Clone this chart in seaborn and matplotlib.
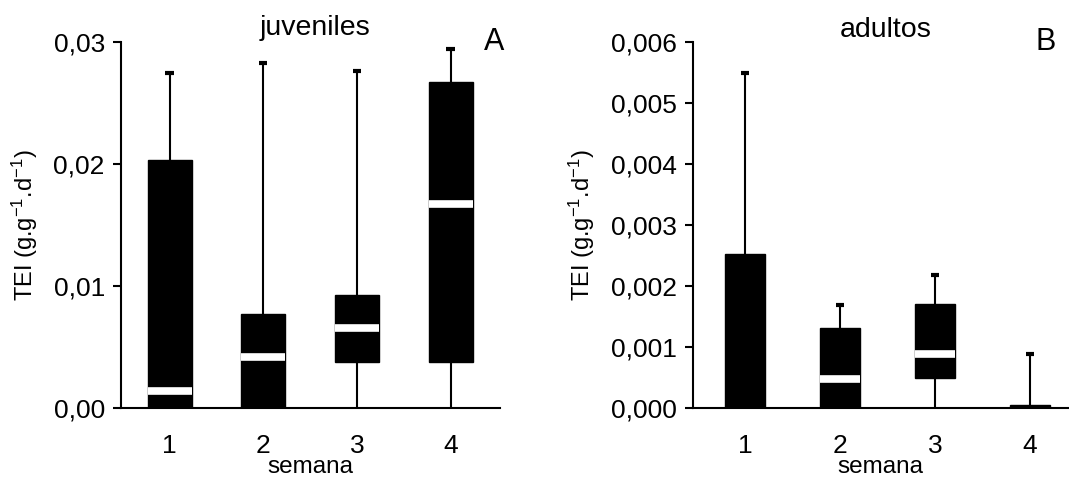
import numpy as np
import pandas as pd
import matplotlib
matplotlib.use("Agg")
import matplotlib.pyplot as plt
from matplotlib.ticker import FuncFormatter
import seaborn as sns

# Weekly TEI summaries: minimum, first quartile, median, third quartile, maximum
weeks = ["1", "2", "3", "4"]
juveniles_stats = {
    "1": [0.0, 0.0, 0.0014, 0.0203, 0.0275],
    "2": [0.0, 0.0, 0.0042, 0.0077, 0.0283],
    "3": [0.0, 0.0038, 0.0066, 0.0093, 0.0276],
    "4": [0.0, 0.0038, 0.0167, 0.0267, 0.0294],
}
adultos_stats = {
    "1": [0.0, 0.0, 0.0, 0.00253, 0.0055],
    "2": [0.0, 0.0, 0.00047, 0.00131, 0.00169],
    "3": [0.0, 0.00049, 0.00089, 0.00171, 0.00219],
    "4": [0.0, 0.0, 0.0, 0.00005, 0.00089],
}
juveniles_yticks = [0.0, 0.01, 0.02, 0.03]
adultos_yticks = [0.0, 0.001, 0.002, 0.003, 0.004, 0.005, 0.006]


def to_long(stats):
    rows = []
    for w in weeks:
        for v in stats[w]:
            rows.append({"semana": w, "TEI": v})
    return pd.DataFrame(rows)


sns.set_theme(style="ticks")
plt.rcParams["font.family"] = ["Liberation Sans", "DejaVu Sans"]
plt.rcParams["mathtext.fontset"] = "custom"
plt.rcParams["mathtext.rm"] = "Liberation Sans"
plt.rcParams["mathtext.it"] = "Liberation Sans:italic"
plt.rcParams["text.color"] = "black"
plt.rcParams["axes.labelcolor"] = "black"

TICK_FS = 19
LABEL_FS = 17.5
YLABEL_FS = 17
TITLE_FS = 20.5
PANEL_FS = 22

fig = plt.figure(figsize=(10.69, 4.79), dpi=100)
axA = fig.add_axes([0.113, 0.148, 0.355, 0.764])
axB = fig.add_axes([0.648, 0.148, 0.352, 0.764])


def draw(ax, stats, width, xlim, yticks, decimals):
    df = to_long(stats)
    sns.boxplot(
        data=df, x="semana", y="TEI", order=weeks, ax=ax,
        whis=(0, 100), width=width, showfliers=False,
        boxprops=dict(facecolor="black", edgecolor="black", linewidth=1),
        medianprops=dict(color="white", linewidth=5.5, solid_capstyle="butt"),
        whiskerprops=dict(color="black", linewidth=1.5),
        capprops=dict(color="black", linewidth=3, solid_capstyle="butt"),
        capwidths=0.09,
    )
    # no marks at the zero baseline: hide zero medians and zero caps
    for line in ax.lines:
        y = np.asarray(line.get_ydata(), dtype=float)
        if line.get_color() == "white" and np.allclose(y, 0.0):
            line.set_visible(False)
        elif len(y) == 2 and np.allclose(y, 0.0) and line.get_linewidth() >= 3:
            line.set_visible(False)
    ax.set_xlim(*xlim)
    ax.set_ylim(yticks[0], yticks[-1])
    ax.set_yticks(yticks)
    ax.yaxis.set_major_formatter(
        FuncFormatter(lambda v, p: f"{v:.{decimals}f}".replace(".", ","))
    )
    for s in ["top", "right"]:
        ax.spines[s].set_visible(False)
    for s in ["left", "bottom"]:
        ax.spines[s].set_linewidth(1.5)
        ax.spines[s].set_color("black")
        ax.spines[s].set_zorder(0.5)
    ax.tick_params(axis="y", length=5.5, width=1.5, labelsize=TICK_FS, pad=6, colors="black")
    ax.tick_params(axis="x", length=0, labelsize=TICK_FS, pad=19, colors="black")
    ax.set_xlabel("semana", fontsize=LABEL_FS, labelpad=-2, color="black")
    ax.set_ylabel(r"TEI (g.g$^{-1}$.d$^{-1}$)", fontsize=YLABEL_FS, labelpad=10, color="black")
    ax.set_facecolor("white")


draw(axA, juveniles_stats, 0.47, (-0.52, 3.53), juveniles_yticks, 2)
draw(axB, adultos_stats, 0.42, (-0.55, 3.41), adultos_yticks, 3)

fig.text(315 / 1069, 1 - 28 / 479, "juveniles", fontsize=TITLE_FS, ha="center", va="center", color="black")
fig.text(494 / 1069, 1 - 42 / 479, "A", fontsize=PANEL_FS, ha="center", va="center", color="black")
fig.text(886 / 1069, 1 - 30 / 479, "adultos", fontsize=TITLE_FS, ha="center", va="center", color="black")
fig.text(1046 / 1069, 1 - 42 / 479, "B", fontsize=PANEL_FS, ha="center", va="center", color="black")

fig.savefig("out.png", dpi=100, facecolor="white")
